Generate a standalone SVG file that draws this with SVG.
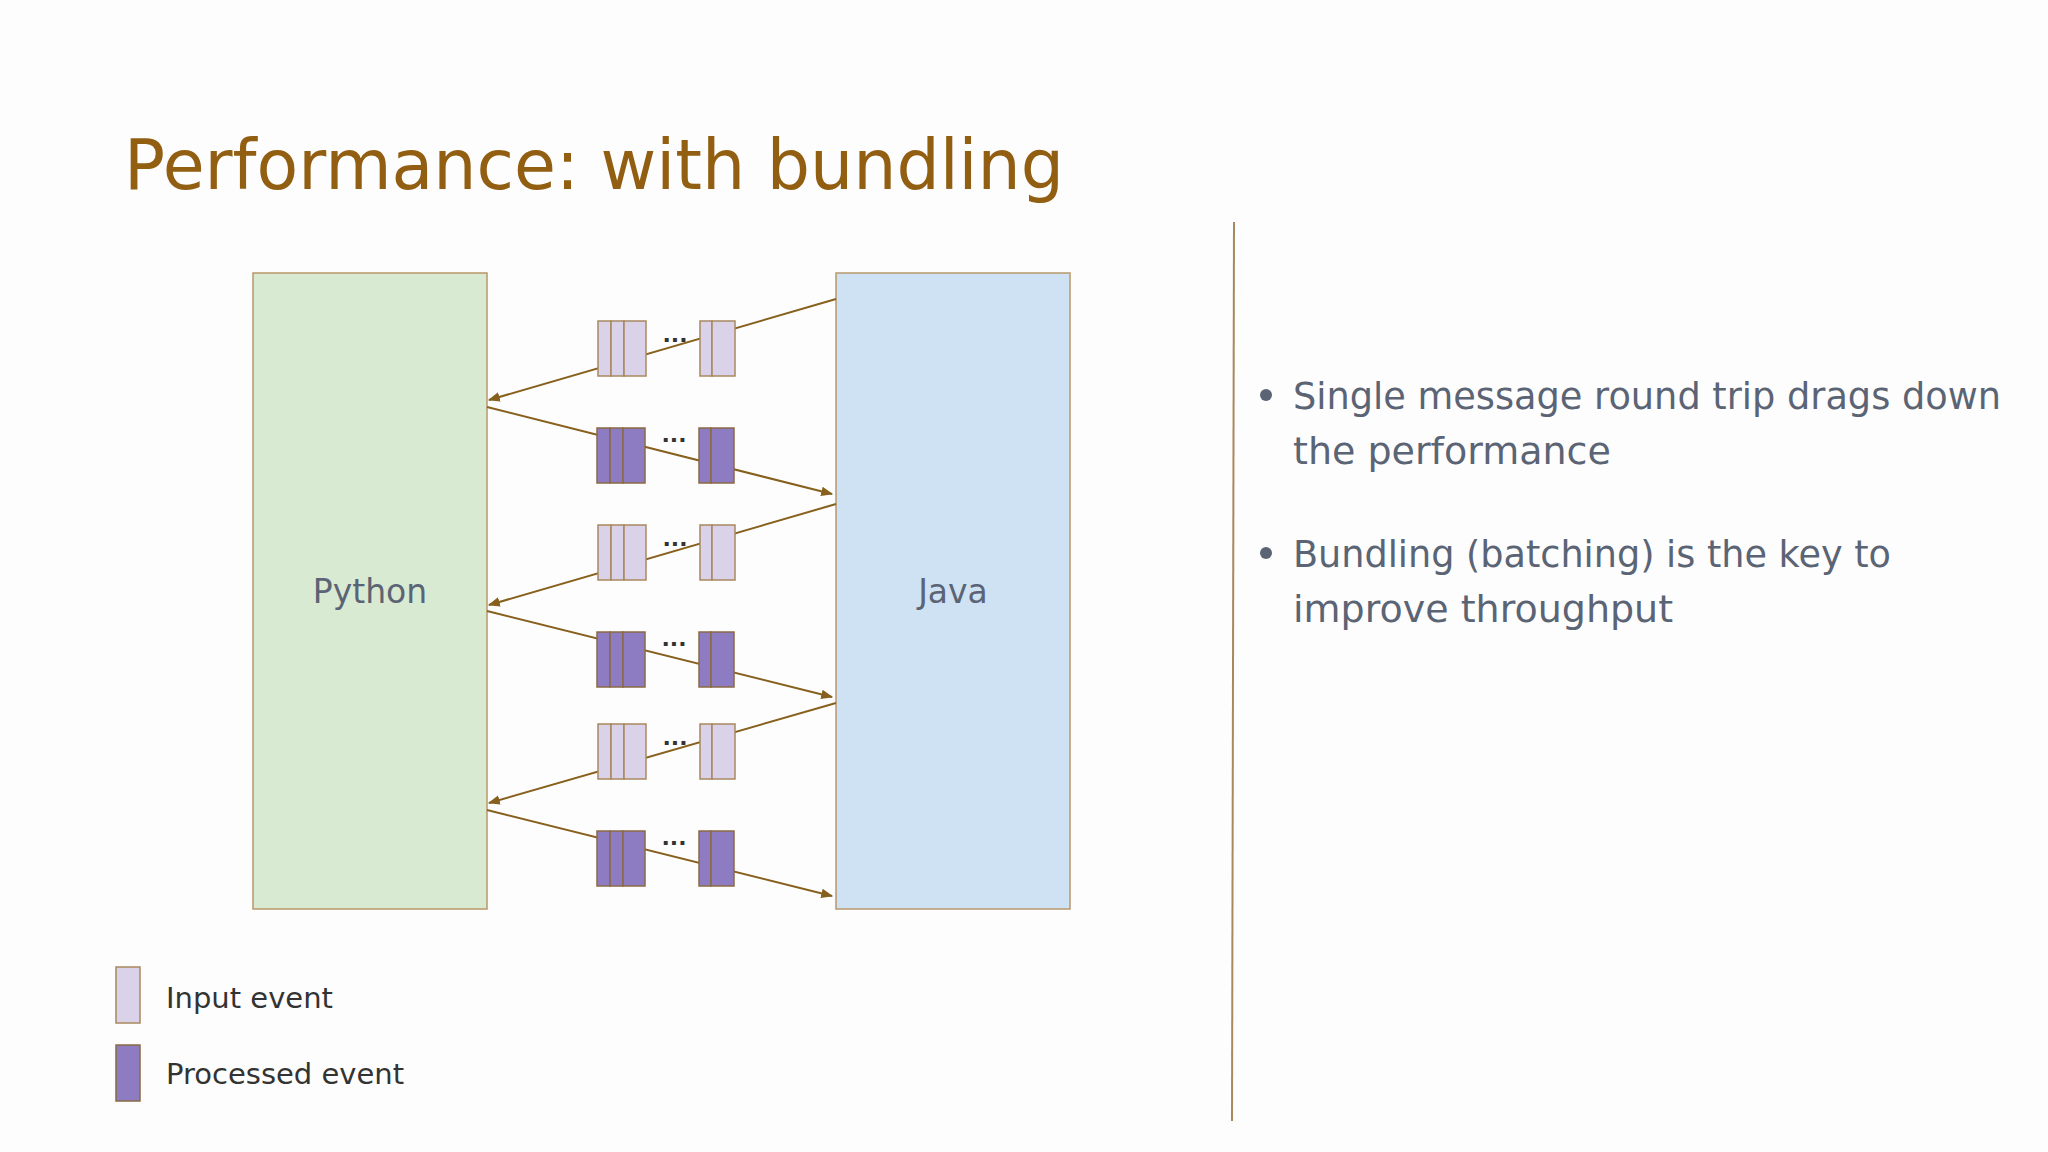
<svg xmlns="http://www.w3.org/2000/svg" width="2048" height="1152" viewBox="0 0 2048 1152">
<defs>
<style>
.ln{stroke:#86601c;stroke-width:2;fill:none}
.in{fill:#d9d2e9;stroke:#a8885e;stroke-width:1.5}
.pr{fill:#8e7cc3;stroke:#8a6a44;stroke-width:1.5}
.dots{font-family:"DejaVu Sans",sans-serif;font-size:22px;font-weight:bold;fill:#333;text-anchor:middle}
.bl{font-family:"DejaVu Sans",sans-serif;font-size:38px;fill:#5b6474}
</style>
<marker id="ah" viewBox="0 0 10 10" refX="9" refY="5" markerWidth="6" markerHeight="6" orient="auto"><path d="M0,1 L10,5 L0,9 z" fill="#86601c"/></marker>
</defs>
<rect width="2048" height="1152" fill="#fdfdfd"/>
<text x="124" y="189" font-family="DejaVu Sans,sans-serif" font-size="70" fill="#925f12" textLength="940" lengthAdjust="spacingAndGlyphs">Performance: with bundling</text>
<g id="python"><rect x="253" y="273" width="234" height="636" fill="#d9ead3" stroke="#b8976a" stroke-width="1.5"/><text x="370" y="603" font-family="DejaVu Sans,sans-serif" font-size="33" fill="#5b6474" text-anchor="middle">Python</text></g>
<g id="java"><rect x="836" y="273" width="234" height="636" fill="#cfe2f3" stroke="#b8976a" stroke-width="1.5"/><text x="953" y="603" font-family="DejaVu Sans,sans-serif" font-size="33" fill="#5b6474" text-anchor="middle">Java</text></g>
<g id="connectors">
<line class="ln" x1="836" y1="299" x2="489" y2="400" marker-end="url(#ah)"/>
<line class="ln" x1="487" y1="407" x2="832" y2="494" marker-end="url(#ah)"/>
<line class="ln" x1="836" y1="504" x2="489" y2="605" marker-end="url(#ah)"/>
<line class="ln" x1="487" y1="611" x2="832" y2="697" marker-end="url(#ah)"/>
<line class="ln" x1="836" y1="703" x2="489" y2="803" marker-end="url(#ah)"/>
<line class="ln" x1="487" y1="810" x2="832" y2="896" marker-end="url(#ah)"/>
</g>
<g id="in1"><rect class="in" x="598" y="321" width="13" height="55"/><rect class="in" x="611" y="321" width="13" height="55"/><rect class="in" x="624" y="321" width="22" height="55"/><rect class="in" x="700" y="321" width="12" height="55"/><rect class="in" x="712" y="321" width="23" height="55"/><text class="dots" x="675" y="342">...</text></g>
<g id="pr1"><rect class="pr" x="597" y="428" width="13" height="55"/><rect class="pr" x="610" y="428" width="13" height="55"/><rect class="pr" x="623" y="428" width="22" height="55"/><rect class="pr" x="699" y="428" width="12" height="55"/><rect class="pr" x="711" y="428" width="23" height="55"/><text class="dots" x="674" y="442">...</text></g>
<g id="in2"><rect class="in" x="598" y="525" width="13" height="55"/><rect class="in" x="611" y="525" width="13" height="55"/><rect class="in" x="624" y="525" width="22" height="55"/><rect class="in" x="700" y="525" width="12" height="55"/><rect class="in" x="712" y="525" width="23" height="55"/><text class="dots" x="675" y="546">...</text></g>
<g id="pr2"><rect class="pr" x="597" y="632" width="13" height="55"/><rect class="pr" x="610" y="632" width="13" height="55"/><rect class="pr" x="623" y="632" width="22" height="55"/><rect class="pr" x="699" y="632" width="12" height="55"/><rect class="pr" x="711" y="632" width="23" height="55"/><text class="dots" x="674" y="646">...</text></g>
<g id="in3"><rect class="in" x="598" y="724" width="13" height="55"/><rect class="in" x="611" y="724" width="13" height="55"/><rect class="in" x="624" y="724" width="22" height="55"/><rect class="in" x="700" y="724" width="12" height="55"/><rect class="in" x="712" y="724" width="23" height="55"/><text class="dots" x="675" y="745">...</text></g>
<g id="pr3"><rect class="pr" x="597" y="831" width="13" height="55"/><rect class="pr" x="610" y="831" width="13" height="55"/><rect class="pr" x="623" y="831" width="22" height="55"/><rect class="pr" x="699" y="831" width="12" height="55"/><rect class="pr" x="711" y="831" width="23" height="55"/><text class="dots" x="674" y="845">...</text></g>
<g id="legend">
<rect class="in" x="116" y="967" width="24" height="56"/><text x="166" y="1008" font-family="DejaVu Sans,sans-serif" font-size="29" fill="#333">Input event</text>
<rect class="pr" x="116" y="1045" width="24" height="56"/><text x="166" y="1084" font-family="DejaVu Sans,sans-serif" font-size="29" fill="#333">Processed event</text>
</g>
<line x1="1234" y1="222" x2="1232" y2="1121" stroke="#a8885e" stroke-width="2"/>
<g id="bullets">
<circle cx="1266" cy="395" r="6" fill="#5b6474"/>
<text class="bl" x="1293" y="409" textLength="708" lengthAdjust="spacingAndGlyphs">Single message round trip drags down</text>
<text class="bl" x="1293" y="464">the performance</text>
<circle cx="1266" cy="553" r="6" fill="#5b6474"/>
<text class="bl" x="1293" y="567" textLength="598" lengthAdjust="spacingAndGlyphs">Bundling (batching) is the key to</text>
<text class="bl" x="1293" y="622">improve throughput</text>
</g>
</svg>
